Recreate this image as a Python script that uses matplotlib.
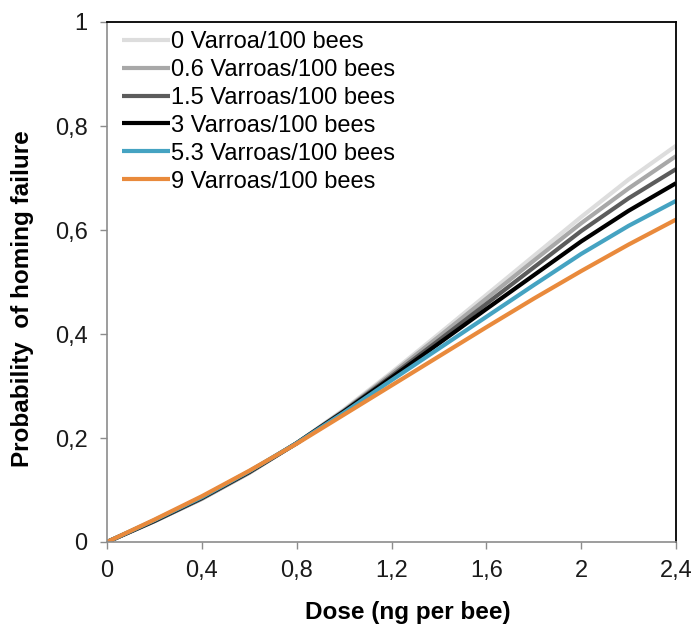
import matplotlib
matplotlib.use("Agg")
import matplotlib.pyplot as plt
from matplotlib.ticker import FuncFormatter

plt.rcParams['font.family'] = ['Liberation Sans', 'DejaVu Sans']

# dose (ng per bee)
dose = [0, 0.2, 0.4, 0.6, 0.8, 1.0, 1.2, 1.4, 1.6, 1.8, 2.0, 2.2, 2.4]

# probability of homing failure, one list per infestation level
p_0 = [0, 0.040, 0.083, 0.133, 0.190, 0.255, 0.326, 0.400, 0.475, 0.550, 0.625, 0.697, 0.762]
p_06 = [0, 0.040, 0.083, 0.133, 0.190, 0.253, 0.323, 0.395, 0.468, 0.541, 0.613, 0.680, 0.742]
p_15 = [0, 0.040, 0.084, 0.134, 0.190, 0.252, 0.319, 0.388, 0.458, 0.528, 0.598, 0.661, 0.717]
p_3 = [0, 0.041, 0.085, 0.135, 0.190, 0.251, 0.316, 0.382, 0.448, 0.513, 0.578, 0.637, 0.690]
p_53 = [0, 0.042, 0.086, 0.136, 0.190, 0.249, 0.311, 0.372, 0.433, 0.494, 0.554, 0.608, 0.656]
p_9 = [0, 0.043, 0.088, 0.137, 0.189, 0.245, 0.301, 0.357, 0.413, 0.468, 0.521, 0.572, 0.620]

labels = ["0 Varroa/100 bees", "0.6 Varroas/100 bees", "1.5 Varroas/100 bees",
          "3 Varroas/100 bees", "5.3 Varroas/100 bees", "9 Varroas/100 bees"]
series = [p_0, p_06, p_15, p_3, p_53, p_9]
colors = ["#dddddd", "#a8a8a8", "#5c5c5c", "#000000", "#45a3c2", "#e98a3c"]

fig = plt.figure(figsize=(6.96, 6.24), dpi=100)
ax = fig.add_axes([107 / 696, 1 - 542 / 624, 569 / 696, 520 / 624])

for ys, lab, col in zip(series, labels, colors):
    ax.plot(dose, ys, color=col, lw=3, label=lab, solid_capstyle='butt')

ax.set_xlim(0, 2.4)
ax.set_ylim(0, 1)
ax.set_xticks([0, 0.4, 0.8, 1.2, 1.6, 2.0, 2.4])
ax.set_yticks([0, 0.2, 0.4, 0.6, 0.8, 1.0])
fmt = FuncFormatter(lambda v, p: ('%g' % round(v, 2)).replace('.', ','))
ax.xaxis.set_major_formatter(fmt)
ax.yaxis.set_major_formatter(fmt)
ax.tick_params(axis='both', direction='out', length=5, width=1, color='#8c8c8c',
               labelsize=17, labelcolor='#1a1a1a')
ax.tick_params(axis='x', pad=8)
ax.tick_params(axis='y', pad=9)

for s in ['left', 'bottom']:
    ax.spines[s].set_color('#8c8c8c')
    ax.spines[s].set_linewidth(1.2)
for s in ['top', 'right']:
    ax.spines[s].set_color('#000000')
    ax.spines[s].set_linewidth(1.3)

ax.set_xlabel("Dose (ng per bee)", fontsize=17.5, fontweight='bold', va='center')
ax.xaxis.set_label_coords((408 - 107) / 569, (542 - 613) / 520)
ax.set_ylabel("Probability  of homing failure", fontsize=17.5, fontweight='bold', va='center')
ax.yaxis.set_label_coords((23 - 107) / 569, (542 - 299) / 520)

ax.legend(loc='upper left', frameon=False, fontsize=17, handlelength=2.03,
          handletextpad=0.06, labelspacing=0.25, borderpad=0, borderaxespad=0,
          bbox_to_anchor=(15 / 569, 1 - 9 / 520))

fig.savefig("out.png", dpi=100)
